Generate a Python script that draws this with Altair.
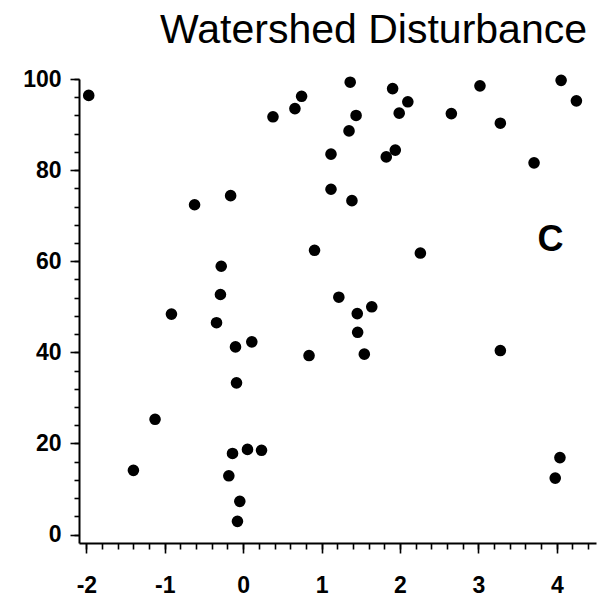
import altair as alt
import pandas as pd

# Data
xs = [-1.97, 0.745, 0.66, 0.38, 1.12, 1.12, -0.16, -0.62, 0.91, -0.28,
      -0.29, 1.22, -0.915, -0.34, 1.365, 1.906, 2.10, 1.99, 1.44, 1.35,
      1.94, 1.825, 2.655, 3.02, 3.28, 4.055, 4.25, 3.71, 1.387, 2.26,
      1.64, 1.455, 1.46, 1.545, 3.28, 4.04, 3.98, -0.098, 0.11, 0.84,
      -0.085, -1.124, -0.136, 0.055, 0.234, -1.40, -0.183, -0.043, -0.073]
ys = [96.4, 96.2, 93.5, 91.7, 83.5, 75.8, 74.4, 72.4, 62.4, 58.9,
      52.7, 52.1, 48.4, 46.5, 99.3, 97.9, 95.0, 92.5, 92.0, 88.6,
      84.4, 82.9, 92.4, 98.5, 90.3, 99.7, 95.2, 81.6, 73.3, 61.8,
      50.0, 48.5, 44.4, 39.6, 40.4, 16.9, 12.4, 41.2, 42.3, 39.3,
      33.3, 25.3, 17.8, 18.7, 18.5, 14.1, 12.9, 7.3, 2.9]

x_major = [-2, -1, 0, 1, 2, 3, 4]
y_major = [0, 20, 40, 60, 80, 100]
x_minor = [round(-2 + 0.2 * i, 1) for i in range(33)]   # minor step 0.2
y_minor = [4 * i for i in range(26)]                     # minor step 4

title_text = "Watershed Disturbance"
panel_label = ["C"]
panel_x = [3.92]
panel_y = [64.6]

df = pd.DataFrame({"x": xs, "y": ys})
df_lab = pd.DataFrame({"x": panel_x, "y": panel_y, "t": panel_label})
df_title = pd.DataFrame({"t": [title_text]})

W, H = 517, 464
FONT = "Liberation Sans"

x_scale = alt.Scale(domain=[-2.094, 4.50], nice=False, zero=False)
y_scale = alt.Scale(domain=[-1.85, 100], nice=False, zero=False)

x_axis = alt.Axis(
    values=x_major, title=None, grid=False, orient="bottom",
    tickSize=10, labelPadding=21, labelOverlap=False, labelFlush=False,
    labelExpr="(datum.value < 0 ? '-' : '') + toString(abs(datum.value))",
)
y_axis = alt.Axis(
    values=y_major, title=None, grid=False, orient="left",
    tickSize=9, labelPadding=9, labelOverlap=False, labelFlush=False,
)
x_axis_minor = alt.Axis(
    values=x_minor, title=None, grid=False, orient="bottom", offset=0,
    tickSize=6, labels=False, domain=False,
)
y_axis_minor = alt.Axis(
    values=y_minor, title=None, grid=False, orient="left", offset=0,
    tickSize=5, labels=False, domain=False,
)

points = alt.Chart(df).mark_circle(size=135, color="black", opacity=1).encode(
    x=alt.X("x:Q", scale=x_scale, axis=x_axis),
    y=alt.Y("y:Q", scale=y_scale, axis=y_axis),
)

minor = alt.Chart(df).mark_circle(size=1, opacity=0).encode(
    x=alt.X("x:Q", scale=x_scale, axis=x_axis_minor),
    y=alt.Y("y:Q", scale=y_scale, axis=y_axis_minor),
)

label = alt.Chart(df_lab).mark_text(
    font=FONT, fontSize=36, fontWeight="bold", color="black",
    align="center", baseline="middle",
).encode(
    x=alt.X("x:Q", scale=x_scale, axis=None),
    y=alt.Y("y:Q", scale=y_scale, axis=None),
    text="t:N",
)

title = alt.Chart(df_title).mark_text(
    font=FONT, fontSize=41, color="black", align="right",
    baseline="alphabetic",
).encode(
    x=alt.value(W - 9),
    y=alt.value(-36),
    text="t:N",
)

chart = alt.layer(points, minor, label, title).resolve_axis(
    x="independent", y="independent"
).properties(
    width=W, height=H,
    autosize=alt.AutoSizeParams(type="none"),
    padding={"left": 79, "top": 79, "right": 20, "bottom": 55},
).configure_view(stroke=None).configure_axis(
    domainColor="black", domainWidth=2, tickColor="black", tickWidth=1.6,
    labelFont=FONT, labelFontSize=23, labelFontWeight="bold",
    labelColor="black",
)

chart.save("out.html", embed_options={"renderer": "svg", "actions": False})
